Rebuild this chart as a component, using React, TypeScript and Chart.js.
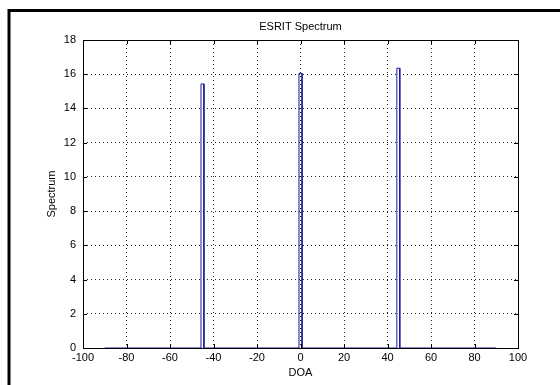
import React, { useEffect, useRef } from "react";
import { Chart, registerables } from "chart.js";

Chart.register(...registerables);

const chartTitle = "ESRIT Spectrum";
const xTitle = "DOA";
const yTitle = "Spectrum";

// DOA sample points (degrees) and spectrum values
const doa = [-90, -45.75, -45.75, -44.4, -44.4, -0.7, -0.7, 0.7, 0.7, 44.3, 44.3, 45.65, 45.65, 90];
const spectrum = [0, 0, 15.43, 15.43, 0, 0, 16.05, 16.05, 0, 0, 16.35, 16.35, 0, 0];

const xMin = -100;
const xMax = 100;
const xStep = 20;
const yMin = 0;
const yMax = 18;
const yStep = 2;

const FONT = "'Liberation Sans', Arial, sans-serif";

const framePlugin = {
  id: "matlabFrame",
  afterDraw(chart: any) {
    const { ctx, chartArea, scales } = chart;
    const { left, right, top, bottom } = chartArea;
    ctx.save();
    // outer window frame
    ctx.strokeStyle = "#000";
    ctx.lineWidth = 3;
    ctx.strokeRect(9, 10.5, 700, 500);
    // axes box
    ctx.lineWidth = 1;
    ctx.strokeRect(Math.round(left) + 0.5, Math.round(top) + 0.5, Math.round(right - left), Math.round(bottom - top));
    // inward ticks
    const tl = 4;
    ctx.beginPath();
    scales.x.ticks.forEach((t: any) => {
      const x = Math.round(scales.x.getPixelForValue(t.value)) + 0.5;
      ctx.moveTo(x, bottom);
      ctx.lineTo(x, bottom - tl);
      ctx.moveTo(x, top);
      ctx.lineTo(x, top + tl);
    });
    scales.y.ticks.forEach((t: any) => {
      const y = Math.round(scales.y.getPixelForValue(t.value)) + 0.5;
      ctx.moveTo(left, y);
      ctx.lineTo(left + tl, y);
      ctx.moveTo(right, y);
      ctx.lineTo(right - tl, y);
    });
    ctx.stroke();
    ctx.restore();
  },
};

export default function App() {
  const canvasRef = useRef<HTMLCanvasElement | null>(null);

  useEffect(() => {
    if (!canvasRef.current) return;
    const points = doa.map((x, i) => ({ x, y: spectrum[i] }));
    const chart = new Chart(canvasRef.current, {
      type: "scatter",
      data: {
        datasets: [
          {
            data: points,
            showLine: true,
            borderColor: "#1a1a9a",
            borderWidth: 1,
            pointRadius: 0,
            tension: 0,
            fill: false,
          },
        ],
      },
      options: {
        animation: false,
        responsive: false,
        maintainAspectRatio: false,
        layout: { padding: { left: 0, right: 42, top: 0, bottom: 0 } },
        plugins: {
          legend: { display: false },
          tooltip: { enabled: false },
          title: {
            display: true,
            text: chartTitle,
            fullSize: false,
            color: "#000",
            font: { family: FONT, size: 11, weight: "normal" },
            padding: { top: 20, bottom: 6.8 },
          },
        },
        scales: {
          x: {
            type: "linear",
            min: xMin,
            max: xMax,
            afterFit: (s: any) => {
              s.height = 37;
            },
            ticks: {
              stepSize: xStep,
              color: "#000",
              padding: 3,
              maxRotation: 0,
              font: { family: FONT, size: 11 },
            },
            grid: { color: "#222", lineWidth: 1, drawTicks: false },
            border: { display: false, dash: [1, 3] },
            title: {
              display: true,
              text: xTitle,
              color: "#000",
              font: { family: FONT, size: 11 },
              padding: { top: 0, bottom: 5 },
            },
          },
          y: {
            type: "linear",
            min: yMin,
            max: yMax,
            afterFit: (s: any) => {
              s.width = 83;
            },
            ticks: {
              stepSize: yStep,
              color: "#000",
              padding: 7,
              font: { family: FONT, size: 11 },
            },
            grid: { color: "#222", lineWidth: 1, drawTicks: false },
            border: { display: false, dash: [1, 3] },
            title: {
              display: true,
              text: yTitle,
              color: "#000",
              font: { family: FONT, size: 11 },
              padding: { top: 45, bottom: 0 },
            },
          },
        },
      },
      plugins: [framePlugin],
    });
    return () => chart.destroy();
  }, []);

  return (
    <div style={{ position: "fixed", left: 0, top: 0, width: 560, height: 385, background: "#fff" }}>
      <canvas ref={canvasRef} width={560} height={385} style={{ display: "block", width: 560, height: 385 }} />
    </div>
  );
}
